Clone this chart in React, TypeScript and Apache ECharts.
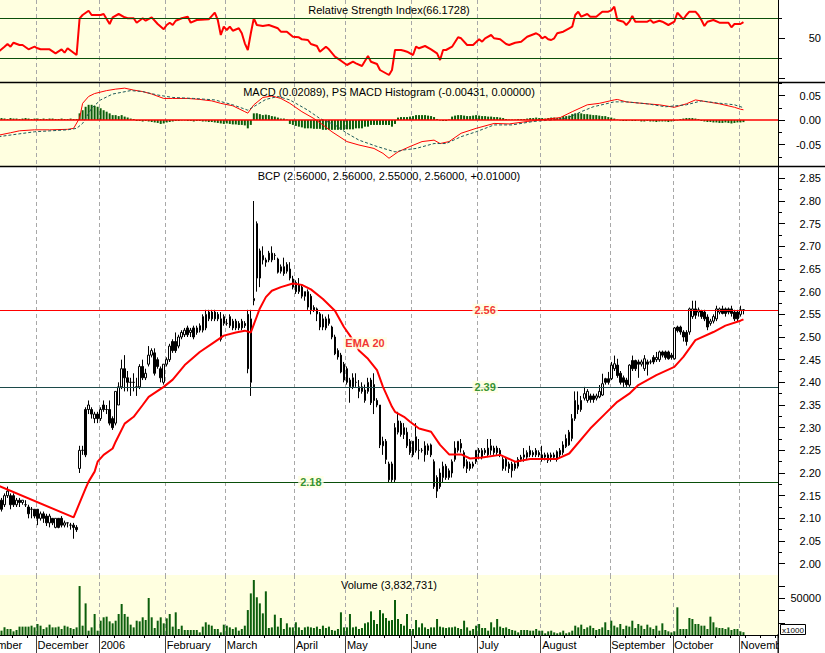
import React, { useEffect, useRef } from 'react';
import * as echarts from 'echarts';

// ---------- data ----------
// Bars are numbered by trading-day index k; the plot shows k = 10 .. 268.
const FIRST = 9; // bar index of the first entry in candles / volumes / macdHist
const BAR0 = 10; // first bar index shown at the left edge of the plot
const CATEGORY_COUNT = 259;
const monthNames = ['November', 'December', '2006', 'February', 'March', 'April', 'May', 'June', 'July', 'August', 'September', 'October', 'November'];
const monthStarts = [0, 22, 43, 65, 85, 108, 125, 147, 169, 190, 213, 234, 256];

// [open, close, low, high]
const candles: number[][] = [
  [2.14,2.13,2.12,2.15],[2.14,2.12,2.115,2.145],[2.13,2.15,2.125,2.155],[2.15,2.16,2.145,2.17],[2.15,2.13,2.12,2.155],[2.15,2.13,2.125,2.155],[2.13,2.14,2.125,2.145],[2.14,2.135,2.125,2.145],[2.135,2.14,2.13,2.14],[2.13,2.13,2.125,2.14],
  [2.125,2.11,2.10,2.13],[2.12,2.12,2.10,2.125],[2.12,2.105,2.10,2.12],[2.12,2.10,2.085,2.12],[2.10,2.11,2.095,2.115],[2.11,2.10,2.09,2.115],[2.105,2.09,2.083,2.11],[2.09,2.105,2.08,2.11],[2.10,2.09,2.085,2.10],[2.08,2.10,2.078,2.10],
  [2.10,2.08,2.078,2.10],[2.10,2.085,2.08,2.105],[2.085,2.09,2.08,2.095],[2.09,2.09,2.08,2.09],[2.085,2.085,2.075,2.09],[2.085,2.08,2.055,2.09],[2.08,2.075,2.07,2.085],[2.21,2.25,2.20,2.26],[2.25,2.25,2.24,2.26],[2.34,2.24,2.235,2.345],
  [2.34,2.35,2.33,2.36],[2.34,2.33,2.32,2.345],[2.32,2.33,2.31,2.335],[2.33,2.32,2.31,2.335],[2.32,2.34,2.315,2.345],[2.35,2.34,2.335,2.36],[2.34,2.34,2.33,2.35],[2.34,2.31,2.305,2.36],[2.32,2.30,2.295,2.325],[2.31,2.38,2.305,2.38],
  [2.35,2.39,2.35,2.40],[2.39,2.43,2.385,2.45],[2.43,2.41,2.38,2.46],[2.41,2.40,2.38,2.425],[2.40,2.40,2.37,2.41],[2.40,2.40,2.38,2.42],[2.39,2.39,2.37,2.41],[2.39,2.435,2.385,2.44],[2.435,2.41,2.405,2.45],[2.41,2.42,2.405,2.43],
  [2.44,2.46,2.435,2.48],[2.46,2.47,2.455,2.475],[2.465,2.42,2.415,2.475],[2.45,2.435,2.43,2.455],[2.43,2.41,2.40,2.435],[2.40,2.44,2.395,2.44],[2.44,2.45,2.435,2.455],[2.45,2.48,2.445,2.485],[2.49,2.47,2.465,2.495],[2.49,2.47,2.465,2.51],
  [2.48,2.50,2.475,2.505],[2.50,2.51,2.495,2.515],[2.505,2.515,2.50,2.52],[2.52,2.505,2.50,2.525],[2.51,2.515,2.50,2.52],[2.52,2.50,2.495,2.525],[2.52,2.51,2.505,2.525],[2.515,2.525,2.51,2.53],[2.515,2.545,2.51,2.55],[2.52,2.55,2.515,2.56],
  [2.54,2.555,2.535,2.56],[2.555,2.54,2.535,2.56],[2.555,2.54,2.535,2.56],[2.55,2.54,2.535,2.555],[2.54,2.495,2.49,2.555],[2.53,2.545,2.525,2.55],[2.53,2.53,2.525,2.54],[2.525,2.545,2.52,2.55],[2.535,2.52,2.515,2.54],[2.535,2.52,2.515,2.54],
  [2.53,2.52,2.515,2.535],[2.52,2.535,2.515,2.54],[2.53,2.525,2.52,2.535],[2.55,2.43,2.42,2.56],[2.40,2.54,2.37,2.56],[2.58,2.585,2.57,2.80],[2.75,2.63,2.60,2.755],[2.63,2.69,2.61,2.695],[2.67,2.68,2.66,2.70],[2.67,2.665,2.655,2.675],
  [2.685,2.67,2.665,2.69],[2.67,2.685,2.665,2.70],[2.68,2.68,2.67,2.685],[2.672,2.643,2.64,2.675],[2.645,2.655,2.64,2.66],[2.655,2.64,2.635,2.675],[2.645,2.66,2.64,2.665],[2.65,2.63,2.625,2.665],[2.628,2.61,2.605,2.635],[2.62,2.60,2.595,2.625],
  [2.60,2.615,2.595,2.63],[2.61,2.59,2.585,2.615],[2.60,2.59,2.58,2.60],[2.60,2.566,2.56,2.605],[2.59,2.56,2.55,2.595],[2.565,2.56,2.555,2.57],[2.562,2.551,2.535,2.565],[2.551,2.522,2.515,2.555],[2.54,2.522,2.515,2.55],[2.52,2.54,2.515,2.545],
  [2.54,2.53,2.525,2.55],[2.522,2.50,2.495,2.525],[2.50,2.463,2.46,2.505],[2.47,2.456,2.45,2.475],[2.46,2.423,2.42,2.465],[2.44,2.405,2.40,2.445],[2.43,2.40,2.395,2.435],[2.39,2.405,2.355,2.41],[2.39,2.41,2.385,2.42],[2.40,2.40,2.39,2.42],
  [2.39,2.38,2.365,2.405],[2.39,2.38,2.375,2.40],[2.36,2.383,2.355,2.395],[2.38,2.40,2.375,2.41],[2.405,2.355,2.35,2.41],[2.395,2.36,2.33,2.42],[2.36,2.35,2.345,2.365],[2.35,2.262,2.255,2.35],[2.27,2.26,2.24,2.28],[2.27,2.23,2.22,2.275],
  [2.22,2.185,2.18,2.225],[2.22,2.185,2.18,2.225],[2.185,2.30,2.18,2.31],[2.29,2.315,2.285,2.335],[2.31,2.285,2.28,2.315],[2.30,2.285,2.275,2.31],[2.26,2.29,2.255,2.30],[2.27,2.245,2.24,2.275],[2.27,2.24,2.235,2.27],[2.25,2.28,2.245,2.31],
  [2.25,2.25,2.23,2.275],[2.25,2.25,2.245,2.255],[2.24,2.26,2.225,2.27],[2.26,2.25,2.24,2.265],[2.262,2.24,2.235,2.265],[2.225,2.17,2.165,2.23],[2.19,2.16,2.145,2.195],[2.20,2.17,2.165,2.21],[2.19,2.215,2.18,2.225],[2.215,2.19,2.185,2.22],
  [2.19,2.205,2.185,2.21],[2.20,2.225,2.19,2.23],[2.23,2.255,2.225,2.27],[2.25,2.27,2.245,2.27],[2.265,2.255,2.245,2.275],[2.215,2.245,2.21,2.25],[2.225,2.21,2.20,2.23],[2.22,2.21,2.205,2.225],[2.22,2.215,2.21,2.225],[2.225,2.25,2.22,2.25],
  [2.25,2.245,2.23,2.255],[2.235,2.25,2.23,2.255],[2.25,2.245,2.24,2.255],[2.24,2.255,2.235,2.275],[2.25,2.26,2.24,2.275],[2.255,2.245,2.24,2.26],[2.255,2.245,2.24,2.26],[2.25,2.24,2.235,2.255],[2.23,2.21,2.205,2.235],[2.23,2.215,2.205,2.235],
  [2.22,2.21,2.20,2.225],[2.205,2.22,2.19,2.225],[2.21,2.22,2.205,2.225],[2.215,2.23,2.21,2.235],[2.23,2.235,2.225,2.24],[2.235,2.24,2.225,2.255],[2.235,2.245,2.23,2.25],[2.24,2.25,2.235,2.26],[2.245,2.24,2.235,2.25],[2.24,2.25,2.235,2.255],
  [2.245,2.24,2.235,2.25],[2.24,2.23,2.225,2.26],[2.235,2.24,2.228,2.245],[2.24,2.228,2.222,2.245],[2.235,2.24,2.225,2.245],[2.235,2.24,2.23,2.245],[2.23,2.247,2.225,2.25],[2.24,2.25,2.235,2.255],[2.245,2.262,2.24,2.27],[2.258,2.276,2.255,2.285],
  [2.262,2.29,2.26,2.295],[2.276,2.32,2.27,2.33],[2.32,2.36,2.315,2.38],[2.35,2.34,2.33,2.38],[2.36,2.34,2.335,2.37],[2.365,2.375,2.36,2.39],[2.36,2.38,2.355,2.385],[2.37,2.362,2.355,2.375],[2.37,2.362,2.355,2.375],[2.365,2.37,2.36,2.375],
  [2.368,2.38,2.365,2.394],[2.372,2.397,2.37,2.419],[2.408,2.40,2.395,2.41],[2.408,2.40,2.395,2.423],[2.408,2.438,2.405,2.445],[2.43,2.441,2.425,2.459],[2.438,2.415,2.41,2.452],[2.42,2.40,2.395,2.425],[2.41,2.40,2.39,2.415],[2.405,2.395,2.39,2.41],
  [2.394,2.438,2.39,2.44],[2.448,2.43,2.425,2.459],[2.448,2.43,2.425,2.45],[2.445,2.44,2.41,2.45],[2.44,2.445,2.435,2.45],[2.43,2.452,2.425,2.46],[2.445,2.44,2.415,2.45],[2.445,2.445,2.44,2.45],[2.455,2.445,2.44,2.46],[2.45,2.455,2.445,2.467],
  [2.45,2.467,2.445,2.47],[2.467,2.46,2.455,2.47],[2.467,2.455,2.45,2.47],[2.467,2.452,2.45,2.47],[2.46,2.455,2.45,2.465],[2.452,2.52,2.45,2.522],[2.522,2.514,2.51,2.525],[2.522,2.511,2.505,2.525],[2.511,2.50,2.49,2.515],[2.51,2.49,2.481,2.515],
  [2.511,2.562,2.505,2.565],[2.545,2.562,2.54,2.58],[2.562,2.548,2.54,2.58],[2.555,2.56,2.545,2.565],[2.558,2.545,2.54,2.56],[2.555,2.54,2.535,2.56],[2.544,2.522,2.515,2.55],[2.53,2.535,2.525,2.54],[2.535,2.545,2.53,2.55],[2.54,2.562,2.535,2.569],
  [2.555,2.562,2.55,2.565],[2.562,2.552,2.55,2.569],[2.562,2.552,2.545,2.565],[2.562,2.555,2.55,2.565],[2.562,2.552,2.545,2.569],[2.555,2.54,2.535,2.56],[2.555,2.54,2.535,2.56],[2.55,2.56,2.545,2.569],[2.56,2.56,2.55,2.56],
];

// volume in thousands
const volumes: number[] = [
  6000,5900,10400,8200,8200,5000,6800,11400,11400,11400,
  11400,12700,10400,15000,12700,8200,10400,14100,10400,10400,
  11400,8200,12700,11400,9500,8200,10400,66700,12700,43100,
  5900,10400,28600,5900,19500,24100,25000,18600,15900,19500,
  28600,42200,28600,25000,14100,10400,19500,18600,24100,20400,
  50400,24100,9500,19500,24100,15900,22700,28600,11400,30900,
  8200,12700,6800,6800,6800,6800,6800,3600,11400,17300,
  14100,12700,8200,8200,3600,14100,12700,10400,8200,10400,
  5900,8200,12700,34000,56700,74900,51300,43100,29500,59500,
  9500,10400,27700,11400,23200,8200,15900,10400,10400,17300,
  10400,6800,10400,11400,10400,9500,11400,8200,12700,9500,
  11400,6800,5900,8200,30900,10400,10400,28600,10400,11400,
  8200,9500,15900,17300,32200,20400,15000,34000,29500,23200,
  19500,20400,47700,21800,15000,12700,28600,8200,8200,20400,
  10400,15900,10400,8200,10400,10400,21800,11400,10400,9500,
  10400,10400,11400,9500,8200,19500,10400,5900,8200,12700,
  15000,9500,9500,5900,17300,10400,21800,11400,9500,10400,
  8200,6800,5900,3600,6800,6800,6800,5900,5900,8200,
  5900,5900,2300,5000,5900,3600,2300,3600,5900,2300,
  3600,5900,12700,10400,14100,8200,10400,12700,9500,6800,
  8200,10400,17300,6800,19500,12700,10400,15000,8200,12700,
  11400,19500,9500,15000,12700,8200,14100,10400,8200,12700,
  5900,15900,6800,5000,3600,5000,37700,8200,8200,8200,
  23200,21800,15000,15000,12700,12700,8200,25000,17300,10400,
  9500,9500,8200,10400,6800,8200,8200,5000,3833,
];

const macdHist: number[] = [
  0.003,0.004,0.003,0.002,0.004,0.003,0.003,0.002,0.003,0.004,0.003,0.002,0.003,0.003,0.002,0.003,0.002,0.003,0.003,0.002,0.002,0.003,0.002,0.002,0.003,0.002,0.002,
  0.0136,0.020,0.027,0.031,0.031,0.029,0.027,0.024,0.020,0.017,0.0136,0.010,0.010,0.008,0.010,0.007,0.005,0.003,0.002,
  -0.002,-0.002,-0.003,-0.002,-0.003,-0.004,-0.005,-0.006,-0.008,-0.007,-0.005,
  -0.004,-0.003,-0.002,-0.002,-0.001,-0.001,-0.002,-0.002,-0.003,-0.002,-0.002,-0.003,-0.003,-0.004,-0.004,-0.005,
  -0.006,-0.007,-0.008,-0.007,-0.008,-0.009,-0.009,-0.010,-0.010,-0.011,-0.017,-0.010,
  0.0136,0.0136,0.012,0.010,0.011,0.010,0.008,0.007,0.005,0.003,0.003,0.001,
  -0.008,-0.010,-0.012,-0.0136,-0.015,-0.017,-0.017,-0.017,-0.018,-0.018,-0.018,-0.020,-0.020,-0.020,-0.020,-0.020,-0.020,-0.020,-0.020,-0.019,-0.019,-0.019,-0.017,-0.017,-0.017,-0.0136,-0.0136,-0.010,-0.010,-0.010,-0.010,-0.010,-0.010,-0.010,-0.0136,-0.008,
  0.005,0.006,0.006,0.006,0.007,0.008,0.010,0.010,0.010,0.010,0.009,0.008,0.006,
  0.002,-0.001,-0.002,-0.002,0.001,
  0.007,0.009,0.010,0.010,0.009,0.008,0.008,0.009,0.010,0.009,0.008,0.008,0.007,0.007,0.006,0.006,0.005,0.004,
  0.002,0.001,0.001,0.001,0.002,0.002,0.002,
  0.003,0.004,0.004,0.005,0.004,0.004,0.003,0.004,0.005,0.005,0.004,0.005,
  0.008,0.008,0.009,0.012,0.0136,0.014,0.0136,0.012,0.012,0.011,0.010,0.010,0.009,0.008,0.008,0.006,0.005,
  0.003,0.001,-0.001,-0.002,-0.002,-0.001,-0.002,-0.002,-0.001,
  -0.003,-0.003,-0.002,-0.003,-0.003,-0.004,-0.003,-0.003,-0.003,-0.004,-0.003,-0.002,-0.001,
  0.002,0.003,0.004,0.004,0.004,0.003,0.002,
  -0.002,-0.003,-0.004,-0.004,-0.005,-0.005,-0.006,-0.006,-0.005,-0.006,-0.007,-0.006,-0.005,-0.005,-0.00431,
];

// [bar index, value]
const rsiPoints: number[][] = [
  [9,36.6],[11,41.6],[12,44.3],[13,41.6],[14,45.6],[16,43.3],[17,43.3],[19,39],[21,41.6],[22,40],[23,39],[26,39],[28,35],[30,39],[31,35.6],[32,40],[35,33.3],
  [36,70],[37,73.3],[39,77.6],[40,73.3],[43,73.3],[44,74.3],[46,64.3],[47,71],[49,74.3],[51,71],[52,70],[54,70],[55,65.6],[57,70],[58,67.6],[60,71],[62,64.3],
  [64,59],[65,63.3],[66,65.6],[67,63.3],[68,67.6],[70,70],[72,71.6],[73,65.6],[75,68.3],[79,69],[81,75.6],[82,68.3],[83,53.3],[84,61.6],[85,58.3],[86,61.6],
  [87,57.6],[89,60],[90,55],[91,45],[92,38.3],[93,55],[94,70],[95,63.3],[97,62.3],[99,63.3],[102,60],[103,56.6],[105,56.6],[107,51.6],[109,51],[110,49],
  [112,48.3],[113,44.3],[115,42.3],[116,36.6],[118,41.6],[119,39],[121,31.6],[123,27.6],[125,23.3],[127,26.6],[128,25],[130,22.3],[132,32.3],[133,26.6],
  [135,24.3],[136,18.3],[139,13.3],[140,18.3],[141,38.3],[143,38.3],[144,37.6],[145,36.6],[147,33.3],[148,41.6],[149,40],[151,42.3],[153,39],[155,35],
  [156,28.3],[157,38.3],[158,38.3],[160,41.6],[162,51],[163,50],[165,43.3],[167,43.3],[169,49],[170,46.6],[171,50],[173,53.3],[174,50],[176,49],[178,44.3],
  [179,43.3],[181,45.6],[183,46.6],[185,51.6],[188,55],[189,53.3],[190,50],[191,51.6],[192,49],[193,48.3],[194,50],[195,55],[197,56.6],[199,60],[200,61.6],
  [201,73.3],[202,76.6],[203,71.6],[205,74.3],[206,71.6],[208,71.6],[210,76.6],[212,76.6],[213,78],[214,81.6],[215,68.3],[217,66.6],[218,63.3],[219,66.6],
  [220,72.3],[221,66.6],[225,66.6],[226,68.3],[227,65.6],[229,67.6],[230,66.6],[232,63.3],[234,66.6],[235,75.6],[236,72.3],[237,69],[238,73.3],[239,76.6],
  [241,76.6],[242,73.3],[243,68.3],[244,62.3],[245,66.6],[247,68.3],[249,65.6],[252,65.6],[253,61],[254,64.3],[256,64.3],[257,66.17],
];

const emaPoints: number[][] = [
  [9,2.172],[34,2.102],[36,2.134],[38,2.166],[39,2.181],[41,2.203],[42,2.225],[44,2.24],[47,2.254],[48,2.269],[51,2.309],[54,2.324],[57,2.35],[59,2.368],
  [64,2.39],[67,2.406],[71,2.438],[76,2.467],[80,2.485],[84,2.503],[88,2.51],[91,2.514],[93,2.51],[96,2.563],[98,2.588],[100,2.602],[103,2.61],[107,2.618],
  [110,2.615],[113,2.605],[117,2.584],[121,2.558],[124,2.522],[126,2.503],[129,2.47],[132,2.452],[135,2.427],[137,2.39],[140,2.346],[141,2.335],[144,2.324],
  [146,2.313],[149,2.298],[153,2.291],[156,2.262],[159,2.241],[163,2.241],[166,2.232],[170,2.234],[176,2.24],[181,2.225],[186,2.231],[193,2.231],[195,2.231],
  [199,2.243],[206,2.298],[211,2.331],[215,2.357],[219,2.375],[222,2.394],[228,2.416],[234,2.434],[237,2.456],[241,2.493],[247,2.511],[251,2.525],[256,2.536],[257,2.539],
];

const macdPoints: number[][] = [
  [9,-0.031],[13,-0.026],[16,-0.022],[21,-0.020],[26,-0.020],[32,-0.019],[34,-0.017],[36,0.004],[37,0.034],[39,0.048],[41,0.054],[45,0.060],[48,0.063],
  [51,0.065],[54,0.061],[57,0.058],[60,0.053],[64,0.044],[67,0.044],[72,0.044],[76,0.042],[80,0.039],[83,0.034],[87,0.029],[91,0.017],[92,0.014],[94,0.031],
  [97,0.046],[100,0.049],[103,0.044],[106,0.034],[110,0.017],[114,0.003],[117,-0.010],[120,-0.024],[125,-0.044],[129,-0.051],[134,-0.058],[137,-0.068],
  [139,-0.078],[142,-0.065],[146,-0.054],[150,-0.044],[154,-0.041],[156,-0.048],[159,-0.044],[163,-0.027],[168,-0.017],[174,-0.007],[179,-0.008],[185,-0.003],
  [189,0.0],[196,0.005],[200,0.017],[205,0.031],[209,0.034],[214,0.041],[215,0.042],[218,0.037],[225,0.033],[229,0.031],[234,0.026],[238,0.033],[241,0.041],
  [245,0.037],[249,0.033],[254,0.026],[256,0.022],[257,0.0209],
];

const signalPoints: number[][] = [
  [9,-0.034],[21,-0.024],[32,-0.020],[35,-0.017],[37,-0.007],[40,0.024],[43,0.041],[47,0.053],[53,0.060],[57,0.058],[62,0.051],[67,0.046],[74,0.044],
  [81,0.041],[87,0.031],[92,0.020],[95,0.031],[98,0.042],[102,0.048],[106,0.041],[112,0.020],[116,0.003],[121,-0.010],[125,-0.027],[129,-0.041],[135,-0.054],
  [141,-0.065],[144,-0.061],[148,-0.058],[154,-0.048],[158,-0.048],[163,-0.034],[168,-0.024],[174,-0.010],[180,-0.010],[187,-0.003],[193,0.0],[198,0.003],
  [203,0.017],[207,0.027],[214,0.037],[218,0.037],[225,0.033],[231,0.027],[238,0.031],[243,0.039],[248,0.035],[254,0.031],[257,0.0252],
];

const levelValues = [2.56, 2.39, 2.18];
const levelLabelBars = [171, 171, 113];
const levelLineColors = ['#ff0000', '#1c4a4a', '#0a4f0a'];
const levelTextColors = ['#ee0000', '#007800', '#007800'];
const emaTag = { text: 'EMA 20', bar: 131, value: 2.486 };
const rsiBands = [70, 30];

const priceTicks = [2.00, 2.05, 2.10, 2.15, 2.20, 2.25, 2.30, 2.35, 2.40, 2.45, 2.50, 2.55, 2.60, 2.65, 2.70, 2.75, 2.80, 2.85];
const priceMinorTicks = [2.025, 2.075, 2.125, 2.175, 2.225, 2.275, 2.325, 2.375, 2.425, 2.475, 2.525, 2.575, 2.625, 2.675, 2.725, 2.775, 2.825];
const macdTicks = [-0.05, 0.0, 0.05];
const macdMinorTicks = [-0.075, -0.025, 0.025, 0.075];
const rsiTicks = [10, 50];
const rsiMinorTicks = [30, 70];
const rsiLabels = [50];
const volumeTicks = [16667, 33333, 50000, 66667];
const volumeLabels = [50000];

const titles = {
  rsi: 'Relative Strength Index(66.1728)',
  macd: 'MACD (0.02089), PS MACD Histogram (-0.00431, 0.00000)',
  price: 'BCP (2.56000, 2.56000, 2.55000, 2.56000, +0.01000)',
  volume: 'Volume (3,832,731)',
};

// ---------- styling ----------
const FONT = "'Liberation Sans', Arial, sans-serif";
const YELLOW = '#ffffe0';
const GREEN = '#0b5e0b';
const GRID_LEFT = 0;
const GRID_RIGHT = 47;
const AXIS_X = 825 - GRID_RIGHT;
const BAR_PX = (825 - GRID_LEFT - GRID_RIGHT) / CATEGORY_COUNT;

const cat = (k: number) => k - BAR0;
const categories = Array.from({ length: CATEGORY_COUNT }, (_, c) => {
  const m = monthStarts.indexOf(c + BAR0);
  return m >= 0 ? monthNames[m] : '';
});
const isMonthStart = (c: number) => monthStarts.indexOf(c + BAR0) >= 0;
const isWeekStart = (c: number) => {
  const k = c + BAR0;
  return k < 43 ? k % 5 === 4 : k % 5 === 3;
};
// months whose first bar lies left of the plot: label drawn as graphic so it is clipped by the page edge
const offPlotMonths = monthStarts.map((k, i) => ({ k, name: monthNames[i] })).filter((m) => m.k < BAR0);

function xAxisFor(gridIndex: number) {
  return {
    type: 'category', gridIndex, data: categories, boundaryGap: true,
    axisLine: { show: false }, axisTick: { show: false }, axisLabel: { show: false },
    splitLine: { show: true, interval: (i: number) => isMonthStart(i), lineStyle: { color: '#a8a8a8', type: [4, 3], width: 1 } },
  };
}

function yAxisMain(gridIndex: number, min: number, max: number, ticks: number[], labels: number[], fmt: (v: number) => string) {
  return {
    type: 'value', gridIndex, position: 'right', min, max,
    axisLine: { show: true, lineStyle: { color: '#000', width: 1 } },
    axisTick: { show: true, customValues: ticks, length: 7, lineStyle: { color: '#000' } },
    axisLabel: { show: true, customValues: labels, formatter: fmt, align: 'right', margin: 43, color: '#000', fontSize: 11, fontFamily: FONT },
    splitLine: { show: false },
  };
}

function yAxisMinor(gridIndex: number, min: number, max: number, ticks: number[]) {
  return {
    type: 'value', gridIndex, position: 'right', min, max,
    axisLine: { show: false },
    axisTick: { show: true, customValues: ticks, length: 4, lineStyle: { color: '#000' } },
    axisLabel: { show: false }, splitLine: { show: false },
  };
}

function buildOption() {
  const grids = [
    { top: 0, height: 82 },
    { top: 83, height: 83 },
    { top: 167, height: 408 },
    { top: 575, height: 60 },
  ].map((g, i) => ({
    left: GRID_LEFT, right: GRID_RIGHT, top: g.top, height: g.height,
    show: true, borderWidth: 0, backgroundColor: i === 2 ? '#ffffff' : YELLOW,
  }));

  const volumeAxis = {
    ...xAxisFor(3),
    axisLine: { show: true, onZero: false, lineStyle: { color: '#000', width: 1 } },
    axisTick: { show: true, interval: (i: number) => isMonthStart(i), length: 18, lineStyle: { color: '#404040' } },
    axisLabel: { show: true, interval: (i: number) => isMonthStart(i), align: 'left', margin: 4, color: '#000', fontSize: 11, fontFamily: FONT },
  };
  const weekAxis = {
    type: 'category', gridIndex: 3, data: categories, boundaryGap: true, position: 'bottom',
    axisLine: { show: false }, axisLabel: { show: false }, splitLine: { show: false },
    axisTick: { show: true, interval: (i: number) => isWeekStart(i), length: 3, lineStyle: { color: '#000' } },
  };

  const fmt2 = (v: number) => v.toFixed(2);
  const fmt0 = (v: number) => String(Math.round(v));
  const pair = (p: number[]) => [cat(p[0]), p[1]];

  const tagLabel = { show: true, position: 'inside', fontFamily: FONT, fontSize: 11, fontWeight: 'bold', backgroundColor: YELLOW, padding: [1, 2, 0, 2] };

  return {
    animation: false,
    textStyle: { fontFamily: FONT },
    grid: grids,
    xAxis: [xAxisFor(0), xAxisFor(1), xAxisFor(2), volumeAxis, weekAxis],
    yAxis: [
      yAxisMain(0, 6.3, 88.3, rsiTicks, rsiLabels, fmt0),
      yAxisMinor(0, 6.3, 88.3, rsiMinorTicks),
      yAxisMain(1, -0.0938, 0.0755, macdTicks, macdTicks, fmt2),
      yAxisMinor(1, -0.0938, 0.0755, macdMinorTicks),
      yAxisMain(2, 1.975, 2.875, priceTicks, priceTicks, fmt2),
      yAxisMinor(2, 1.975, 2.875, priceMinorTicks),
      yAxisMain(3, 0, 81744, volumeTicks, volumeLabels, fmt0),
    ],
    series: [
      {
        type: 'line', name: 'RSI', xAxisIndex: 0, yAxisIndex: 0, data: rsiPoints.map(pair), symbol: 'none', z: 4,
        lineStyle: { color: '#ff0000', width: 2 },
        markLine: { silent: true, symbol: 'none', label: { show: false }, lineStyle: { color: '#0a4f0a', width: 1, type: 'solid' }, data: rsiBands.map((v) => ({ yAxis: v })) },
      },
      {
        type: 'bar', name: 'Histogram', xAxisIndex: 1, yAxisIndex: 2, barWidth: 2,
        data: macdHist.map((v, i) => [cat(FIRST + i), v]), itemStyle: { color: GREEN },
        markLine: { silent: true, symbol: 'none', label: { show: false }, lineStyle: { color: '#ff0000', width: 1.5, type: 'solid' }, data: [{ yAxis: 0 }] },
      },
      { type: 'line', name: 'MACD', xAxisIndex: 1, yAxisIndex: 2, data: macdPoints.map(pair), symbol: 'none', z: 4, lineStyle: { color: '#ff0000', width: 1 } },
      { type: 'line', name: 'Signal', xAxisIndex: 1, yAxisIndex: 2, data: signalPoints.map(pair), symbol: 'none', z: 4, lineStyle: { color: '#1f5a5a', width: 1, type: [3, 2] } },
      {
        type: 'candlestick', name: 'BCP', xAxisIndex: 2, yAxisIndex: 4, barWidth: 2,
        data: candles.map((c, i) => [cat(FIRST + i), c[0], c[1], c[2], c[3]]),
        encode: { x: 0, y: [1, 2, 3, 4] },
        itemStyle: { color: '#ffffff', color0: '#000000', borderColor: '#000000', borderColor0: '#000000', borderWidth: 1 },
        markLine: {
          silent: true, symbol: 'none', label: { show: false },
          data: levelValues.map((v, i) => ({ yAxis: v, lineStyle: { color: levelLineColors[i], width: 1, type: 'solid' } })),
        },
      },
      { type: 'line', name: 'EMA 20', xAxisIndex: 2, yAxisIndex: 4, data: emaPoints.map(pair), symbol: 'none', z: 5, lineStyle: { color: '#ff0000', width: 2 } },
      {
        type: 'scatter', name: 'tags', xAxisIndex: 2, yAxisIndex: 4, symbolSize: 2, z: 10, silent: true,
        itemStyle: { color: 'rgba(0,0,0,0)' },
        data: [
          ...levelValues.map((v, i) => ({ value: [cat(levelLabelBars[i]), v], label: { ...tagLabel, color: levelTextColors[i], formatter: v.toFixed(2) } })),
          { value: [cat(emaTag.bar), emaTag.value], label: { ...tagLabel, color: '#ee0000', formatter: emaTag.text } },
        ],
      },
      {
        type: 'bar', name: 'Volume', xAxisIndex: 3, yAxisIndex: 6, barWidth: 2,
        data: volumes.map((v, i) => [cat(FIRST + i), v]), itemStyle: { color: GREEN },
      },
    ],
    graphic: [
      { type: 'text', x: 389, y: 10, z: 20, style: { text: titles.rsi, font: `11px ${FONT}`, fill: '#000', textAlign: 'center', textVerticalAlign: 'middle' } },
      { type: 'text', x: 389, y: 92, z: 20, style: { text: titles.macd, font: `11px ${FONT}`, fill: '#000', textAlign: 'center', textVerticalAlign: 'middle' } },
      { type: 'text', x: 389, y: 176, z: 20, style: { text: titles.price, font: `11px ${FONT}`, fill: '#000', textAlign: 'center', textVerticalAlign: 'middle' } },
      { type: 'text', x: 389, y: 585, z: 20, style: { text: titles.volume, font: `11px ${FONT}`, fill: '#000', textAlign: 'center', textVerticalAlign: 'middle' } },
      ...offPlotMonths.map((m) => ({
        type: 'text', z: 20, x: GRID_LEFT + cat(m.k) * BAR_PX + BAR_PX / 2, y: 639,
        style: { text: m.name, font: `11px ${FONT}`, fill: '#000', textAlign: 'left', textVerticalAlign: 'top' },
      })),
      { type: 'line', z: 20, shape: { x1: 0, y1: 82.5, x2: 825, y2: 82.5 }, style: { stroke: '#000', lineWidth: 1.5 } },
      { type: 'line', z: 20, shape: { x1: 0, y1: 166.5, x2: 825, y2: 166.5 }, style: { stroke: '#000', lineWidth: 1.5 } },
      { type: 'rect', z: 30, shape: { x: AXIS_X + 1, y: 637, width: 825 - AXIS_X, height: 16 }, style: { fill: '#ffffff' } },
      { type: 'line', z: 31, shape: { x1: AXIS_X, y1: 634, x2: AXIS_X, y2: 653 }, style: { stroke: '#000', lineWidth: 1 } },
      { type: 'rect', z: 32, shape: { x: AXIS_X + 2.5, y: 624.5, width: 25, height: 10 }, style: { fill: '#ffffff', stroke: '#000', lineWidth: 1 } },
      { type: 'text', z: 33, x: AXIS_X + 15, y: 630, style: { text: 'x1000', font: `8px ${FONT}`, fill: '#000', textAlign: 'center', textVerticalAlign: 'middle' } },
    ],
  };
}

export default function App() {
  const ref = useRef<HTMLDivElement>(null);
  useEffect(() => {
    if (!ref.current) return;
    const chart = echarts.init(ref.current, undefined, { renderer: 'svg' });
    chart.setOption(buildOption() as any);
    return () => chart.dispose();
  }, []);
  return (
    <div
      ref={ref}
      style={{ position: 'absolute', left: 0, top: 0, width: 825, height: 653, background: '#ffffff' }}
    />
  );
}
